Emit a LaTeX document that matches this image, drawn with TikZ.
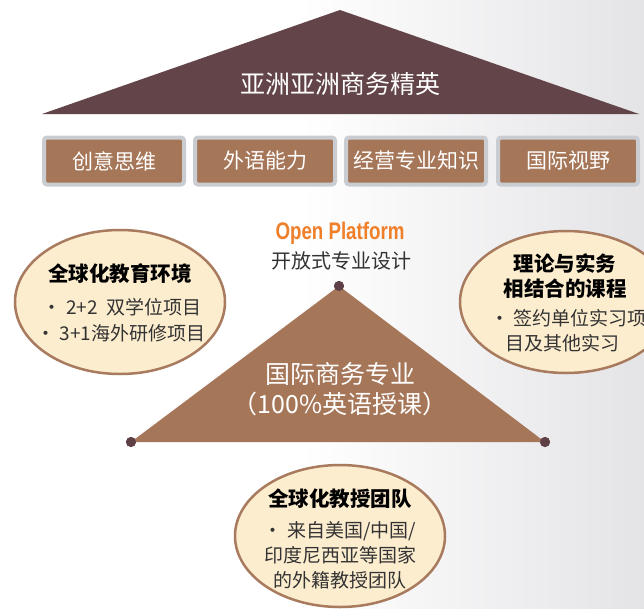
\documentclass[tikz,border=0pt]{standalone}
\usepackage{fontspec}
\setmainfont{Noto Sans CJK SC}
\newfontfamily\opf[FakeStretch=0.78]{Liberation Sans}
\usetikzlibrary{shapes.geometric}
\definecolor{roof}{HTML}{634448}
\definecolor{brownfill}{HTML}{A67659}
\definecolor{boxgray}{HTML}{C9CDD2}
\definecolor{cream}{HTML}{FDEDCF}
\definecolor{ellborder}{HTML}{A87A5E}
\definecolor{dotc}{HTML}{5E4046}
\definecolor{orangeop}{HTML}{F07F2A}
\definecolor{bodytxt}{HTML}{333333}
\definecolor{bggray}{HTML}{E4E4E7}
\tikzset{
  skillbox/.style={draw=boxgray, line width=4pt, rounded corners=3pt, fill=brownfill,
    minimum width=140pt, minimum height=47pt, inner sep=0pt, text=white,
    font=\fontsize{21}{24}\selectfont},
  ell/.style={ellipse, draw=ellborder, line width=2.5pt, fill=cream, inner sep=0pt},
  etitle/.style={font=\bfseries\fontsize{20.5}{25}\selectfont, text=black, align=center, inner sep=0pt},
  ebody/.style={font=\fontsize{19}{25}\selectfont, text=bodytxt, inner sep=0pt},
  vdot/.style={circle, fill=dotc, minimum size=10pt, inner sep=0pt}
}
\begin{document}
\begin{tikzpicture}[x=1pt,y=-1pt]
\useasboundingbox (0,0) rectangle (644,608);
\fill[white] (0,0) rectangle (644,608);
\shade[left color=white, right color=bggray] (300,0) rectangle (644,608);
% roof
\coordinate (ra) at (340,10);
\coordinate (rl) at (42,114);
\coordinate (rr) at (639,114);
\fill[roof] (ra) -- (rr) -- (rl) -- cycle;
\node[text=white, font=\fontsize{25}{28}\selectfont] (rooft) at (340,84) {亚洲亚洲商务精英};
% skill boxes
\node[skillbox] (b1) at (114,161) {创意思维};
\node[skillbox] (b2) at (265,161) {外语能力};
\node[skillbox] (b3) at (416,161) {经营专业知识};
\node[skillbox] (b4) at (568,161) {国际视野};
% open platform
\node[text=orangeop, font=\opf\bfseries\fontsize{24}{26}\selectfont, inner sep=0pt] (op) at (340,233) {Open Platform};
\node[text=bodytxt, font=\fontsize{20}{24}\selectfont, inner sep=0pt] (opc) at (341,261) {开放式专业设计};
% middle triangle
\node[vdot] (ta) at (339,286) {};
\node[vdot] (tl) at (131,442) {};
\node[vdot] (tr) at (545,442) {};
\fill[brownfill] (ta.center) -- (tr.center) -- (tl.center) -- cycle;
\node[vdot] at (ta) {};
\node[vdot] at (tl) {};
\node[vdot] at (tr) {};
\node[text=white, font=\fontsize{25}{30}\selectfont, align=center, inner sep=0pt] (mt) at (340,389) {国际商务专业\\（100\%英语授课）};
% left ellipse
\node[ell, minimum width=210pt, minimum height=144pt] (le) at (120,302) {};
\node[etitle] (let) at (120,274) {全球化教育环境};
\node[ebody] (leb1) at (122,307) {• 2+2 \ 双学位项目};
\node[ebody] (leb2) at (121,333) {• 3+1海外研修项目};
% right ellipse
\node[ell, minimum width=212pt, minimum height=142pt] (re) at (566,302) {};
\node[etitle] (ret) at (565,276) {理论与实务\\相结合的课程};
\node[ebody, anchor=west] (reb1) at (490,318) {• 签约单位实习项};
\node[ebody, anchor=west] (reb2) at (505,343) {目及其他实习};
% bottom ellipse
\node[ell, minimum width=210pt, minimum height=142pt] (be) at (340,536) {};
\node[etitle] (bet) at (340,499) {全球化教授团队};
\node[ebody, align=center] (beb) at (340,555) {• 来自美国/中国/\\印度尼西亚等国家\\的外籍教授团队};
\end{tikzpicture}
\end{document}
